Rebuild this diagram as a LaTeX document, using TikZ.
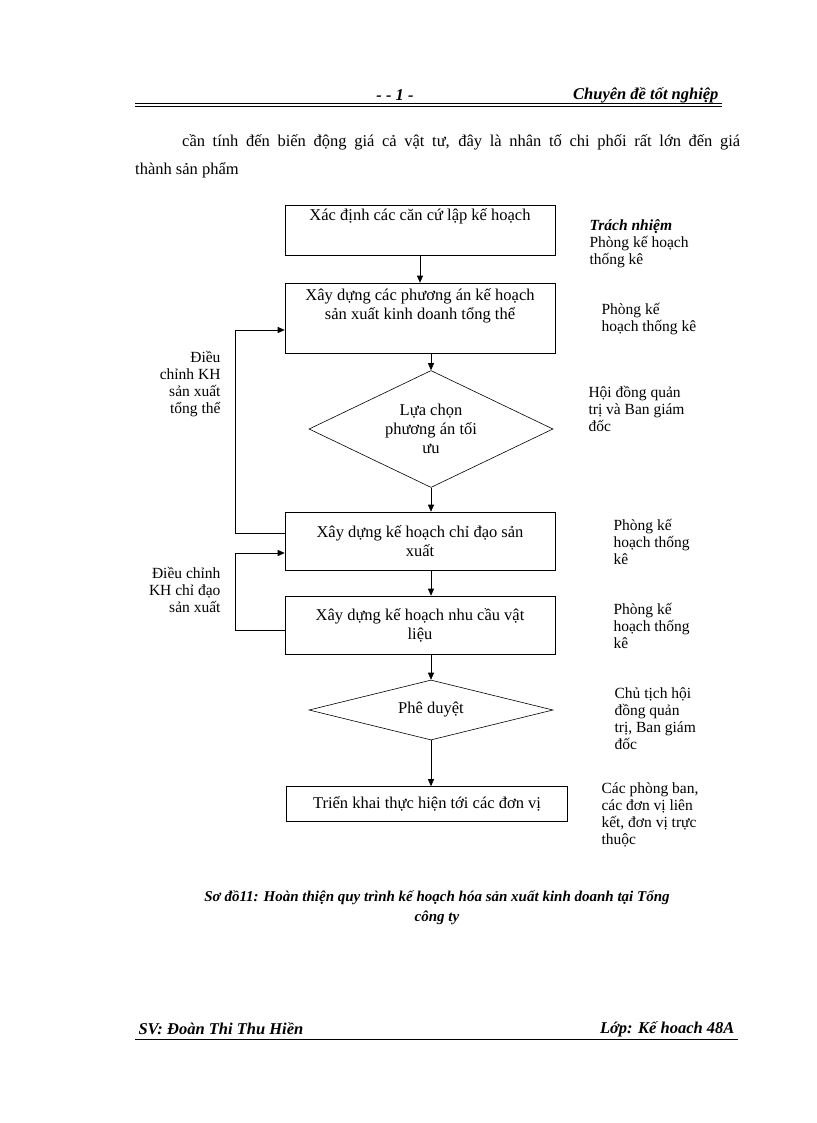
\documentclass[tikz,border=0pt]{standalone}
\usepackage{fontspec}
\setmainfont{Liberation Serif}
\usetikzlibrary{shapes.geometric,arrows.meta}
\begin{document}
\begin{tikzpicture}[x=1pt,y=-1pt,font=\fontsize{16.5}{19}\selectfont,
box/.style={draw,semithick,align=center,inner sep=2pt},
dia/.style={draw,semithick,diamond,aspect=2.1,align=center,inner sep=0pt},
arr/.style={-{Triangle[length=7pt,width=6pt]},semithick},
note/.style={anchor=north west,align=left,font=\fontsize{15.5}{17}\selectfont}]
\useasboundingbox (0,0) rectangle (816,1123);
% header
\node (h1) at (395,95) {\textbf{\textit{- - 1 -}}};
\node[anchor=east] (h2) at (722,95) {\textbf{\textit{Chuyên đề tốt nghiệp}}};
\draw[thick] (135,103) -- (722,103);
\draw (135,106) -- (722,106);
\node[anchor=west,inner sep=0pt] (t1) at (182,142) {\makebox[558pt][s]{cần tính đến biến động giá cả vật tư, đây là nhân tố chi phối rất lớn đến giá}};
\node[anchor=west,inner sep=0pt] (t2) at (135,170) {thành sản phẩm};
% boxes
\node[box,minimum width=270,minimum height=50] (b1) at (420,230) {Xác định các căn cứ lập kế hoạch\\[12pt]};
\node[box,minimum width=270,minimum height=70] (b2) at (420,318) {Xây dựng các phương án kế hoạch\\sản xuất kinh doanh tổng thể\\[8pt]};
\node[dia,minimum width=244,minimum height=117] (d1) at (431,429) {Lựa chọn\\phương án tối\\ưu};
\node[box,minimum width=270,minimum height=58] (b3) at (420,541) {Xây dựng kế hoạch chỉ đạo sản\\xuất};
\node[box,minimum width=270,minimum height=58] (b4) at (420,625) {Xây dựng kế hoạch nhu cầu vật\\liệu};
\node[dia,minimum width=244,minimum height=60] (d2) at (431,710) {Phê duyệt};
\node[box,minimum width=281,minimum height=35] (b5) at (427,804) {Triển khai thực hiện tới các đơn vị};
\draw[arr] (b1.south) -- (b1.south|-b2.north);
\draw[arr] (b2.south-|d1.north) -- (d1.north);
\draw[arr] (d1.south) -- (d1.south|-b3.north);
\draw[arr] (b3.south-|d1.south) -- (d1.south|-b4.north);
\draw[arr] (b4.south-|d2.north) -- (d2.north);
\draw[arr] (d2.south) -- (d2.south|-b5.north);
\coordinate (l1a) at (235,533); \coordinate (l1b) at (235,330);
\draw[arr] (b3.west|-l1a) -- (l1a) -- (l1b) -- (b2.west|-l1b);
\coordinate (l2a) at (235,630); \coordinate (l2b) at (235,553);
\draw[arr] (b4.west|-l2a) -- (l2a) -- (l2b) -- (b3.west|-l2b);
\node[anchor=north east,align=right,font=\fontsize{15.5}{17}\selectfont] (n1) at (224,348) {Điều\\chỉnh KH\\sản xuất\\tổng thể};
\node[anchor=north east,align=right,font=\fontsize{15.5}{17}\selectfont] (n2) at (224,564) {Điều chỉnh\\KH chỉ đạo\\sản xuất};
% responsibilities
\node[note] (r0) at (586,216) {\textbf{\textit{Trách nhiệm}}\\Phòng kế hoạch\\thống kê};
\node[note] (r1) at (598,300) {Phòng kế\\hoạch thống kê};
\node[note] (r2) at (585,383) {Hội đồng quản\\trị và Ban giám\\đốc};
\node[note] (r3) at (610,516) {Phòng kế\\hoạch thống\\kê};
\node[note] (r4) at (610,600) {Phòng kế\\hoạch thống\\kê};
\node[note] (r5) at (611,684) {Chủ tịch hội\\đồng quản\\trị, Ban giám\\đốc};
\node[note] (r6) at (598,779) {Các phòng ban,\\các đơn vị liên\\kết, đơn vị trực\\thuộc};
% caption
\node[align=center,font=\bfseries\itshape\fontsize{15}{20}\selectfont] (cap) at (437,908) {Sơ đồ11: Hoàn thiện quy trình kế hoạch hóa sản xuất kinh doanh tại Tổng\\công ty};
% footer
\node[anchor=west] (f1) at (135,1029) {\textbf{\textit{SV: Đoàn Thi Thu Hiền}}};
\node[anchor=east] (f2) at (738,1029) {\textbf{\textit{Lớp: Kế hoach 48A}}};
\draw (135,1039) -- (738,1039);
\end{tikzpicture}
\end{document}
